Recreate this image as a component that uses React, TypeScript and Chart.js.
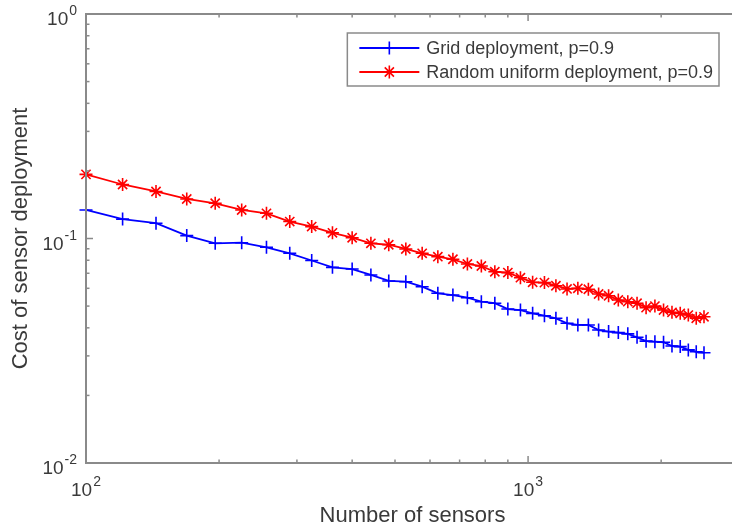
import React, { useEffect, useRef } from "react";
import { Chart, registerables } from "chart.js";

Chart.register(...registerables);

// ---- data ----
const sensorCounts = [
  100, 121, 144, 169, 196, 225, 256, 289, 324, 361, 400, 441, 484, 529, 576, 625, 676, 729, 784, 841,
  900, 961, 1024, 1089, 1156, 1225, 1296, 1369, 1444, 1521, 1600, 1681, 1764, 1849, 1936, 2025, 2116,
  2209, 2304, 2401, 2500,
];
const gridCost = [
  0.134, 0.122, 0.117, 0.103, 0.0952, 0.0958, 0.0914, 0.0859, 0.0798, 0.0744, 0.0731, 0.0688, 0.0647,
  0.0642, 0.061, 0.057, 0.056, 0.0545, 0.0523, 0.0515, 0.0485, 0.048, 0.0464, 0.0453, 0.0441, 0.0419,
  0.0412, 0.0412, 0.0391, 0.0385, 0.0381, 0.0376, 0.0363, 0.0349, 0.0347, 0.0345, 0.0332, 0.033,
  0.0319, 0.0313, 0.031,
];
const randomCost = [
  0.193, 0.174, 0.162, 0.15, 0.1435, 0.134, 0.1295, 0.119, 0.113, 0.106, 0.1008, 0.0952, 0.0938,
  0.0898, 0.0859, 0.083, 0.0808, 0.077, 0.0754, 0.0711, 0.0705, 0.0669, 0.0638, 0.0636, 0.0616,
  0.0596, 0.06, 0.0594, 0.0566, 0.0556, 0.0532, 0.0523, 0.0515, 0.0492, 0.05, 0.048, 0.0469, 0.0464,
  0.0456, 0.0441, 0.0448,
];
const seriesNames = ["Grid deployment, p=0.9", "Random uniform deployment, p=0.9"];
const xTitle = "Number of sensors";
const yTitle = "Cost of sensor deployment";
const xLimits = [100, 3000];
const yLimits = [0.01, 1];
const xMajorTicks = [100, 1000];
const xMajorExponents = ["2", "3"];
const xMinorTicks = [200, 300, 400, 500, 600, 700, 800, 900, 2000, 3000];
const yMajorTicks = [0.01, 0.1, 1];
const yMajorExponents = ["-2", "-1", "0"];
const yMinorTicks = [
  0.02, 0.03, 0.04, 0.05, 0.06, 0.07, 0.08, 0.09, 0.2, 0.3, 0.4, 0.5, 0.6, 0.7, 0.8, 0.9,
];

// ---- style ----
const FONT = '"Liberation Sans", Arial, Helvetica, sans-serif';
const TEXT_COLOR = "#3a3a3a";
const AXIS_COLOR = "#8a8a8a";
const BLUE = "#0000ff";
const RED = "#ff0000";
const MARKER_R = 6.5;

function drawMarker(ctx: CanvasRenderingContext2D, style: string, x: number, y: number, r: number) {
  ctx.beginPath();
  ctx.moveTo(x - r, y);
  ctx.lineTo(x + r, y);
  ctx.moveTo(x, y - r);
  ctx.lineTo(x, y + r);
  if (style === "star") {
    const d = r * Math.SQRT1_2;
    ctx.moveTo(x - d, y - d);
    ctx.lineTo(x + d, y + d);
    ctx.moveTo(x - d, y + d);
    ctx.lineTo(x + d, y - d);
  }
  ctx.stroke();
}

function drawPower(
  ctx: CanvasRenderingContext2D,
  exp: string,
  anchorX: number,
  baseY: number,
  align: "center" | "right"
) {
  ctx.font = `19px ${FONT}`;
  const wBase = ctx.measureText("10").width;
  ctx.font = `14px ${FONT}`;
  const wExp = ctx.measureText(exp).width;
  const total = wBase + wExp + 1;
  const start = align === "center" ? anchorX - total / 2 : anchorX - total;
  ctx.textAlign = "left";
  ctx.textBaseline = "alphabetic";
  ctx.font = `19px ${FONT}`;
  ctx.fillText("10", start, baseY);
  ctx.font = `14px ${FONT}`;
  ctx.fillText(exp, start + wBase + 1, baseY - 10);
}

const axesPlugin = {
  id: "matlabAxes",
  afterDatasetsDraw(chart: any) {
    const { ctx, chartArea: a, scales } = chart;
    const xs = scales.x;
    const ys = scales.y;
    ctx.save();
    ctx.strokeStyle = AXIS_COLOR;
    ctx.lineWidth = 1.5;
    const seg = (x1: number, y1: number, x2: number, y2: number) => {
      ctx.beginPath();
      ctx.moveTo(x1, y1);
      ctx.lineTo(x2, y2);
      ctx.stroke();
    };
    const major = 7;
    const minor = 3.5;
    xMajorTicks.forEach((v) => {
      const p = xs.getPixelForValue(v);
      seg(p, a.bottom, p, a.bottom - major);
      seg(p, a.top, p, a.top + major);
    });
    xMinorTicks.forEach((v) => {
      const p = xs.getPixelForValue(v);
      seg(p, a.bottom, p, a.bottom - minor);
      seg(p, a.top, p, a.top + minor);
    });
    yMajorTicks.forEach((v) => {
      const p = ys.getPixelForValue(v);
      seg(a.left, p, a.left + major, p);
      seg(a.right, p, a.right - major, p);
    });
    yMinorTicks.forEach((v) => {
      const p = ys.getPixelForValue(v);
      seg(a.left, p, a.left + minor, p);
      seg(a.right, p, a.right - minor, p);
    });
    ctx.lineWidth = 2;
    ctx.strokeRect(a.left, a.top, a.right - a.left, a.bottom - a.top);

    ctx.fillStyle = TEXT_COLOR;
    xMajorTicks.forEach((v, i) => {
      drawPower(ctx, xMajorExponents[i], xs.getPixelForValue(v), a.bottom + 32.5, "center");
    });
    yMajorTicks.forEach((v, i) => {
      drawPower(ctx, yMajorExponents[i], a.left - 9, ys.getPixelForValue(v) + 11, "right");
    });
    ctx.restore();
  },
  afterDraw(chart: any) {
    const { ctx, chartArea: a } = chart;
    ctx.save();
    ctx.font = `18px ${FONT}`;
    const tw = Math.max(...seriesNames.map((s) => ctx.measureText(s).width));
    const right = a.right - 20;
    const top = a.top + 19;
    const left = right - (79 + tw + 6);
    const height = 53;
    ctx.fillStyle = "#ffffff";
    ctx.fillRect(left, top, right - left, height);
    ctx.strokeStyle = AXIS_COLOR;
    ctx.lineWidth = 1.5;
    ctx.strokeRect(left, top, right - left, height);
    const rows = [top + 15, top + 39];
    const colors = [BLUE, RED];
    const styles = ["cross", "star"];
    seriesNames.forEach((name, i) => {
      const y = rows[i];
      ctx.strokeStyle = colors[i];
      ctx.lineWidth = 1.8;
      ctx.beginPath();
      ctx.moveTo(left + 12, y);
      ctx.lineTo(left + 72, y);
      ctx.stroke();
      ctx.lineWidth = 1.6;
      drawMarker(ctx, styles[i], left + 42, y, MARKER_R);
      ctx.fillStyle = TEXT_COLOR;
      ctx.textAlign = "left";
      ctx.textBaseline = "middle";
      ctx.font = `18px ${FONT}`;
      ctx.fillText(name, left + 79, y + 1);
    });
    ctx.restore();
  },
};

export default function App() {
  const ref = useRef<HTMLCanvasElement>(null);
  useEffect(() => {
    if (!ref.current) return;
    const chart = new Chart(ref.current, {
      type: "line",
      data: {
        datasets: [
          {
            label: seriesNames[0],
            data: sensorCounts.map((x, i) => ({ x, y: gridCost[i] })),
            borderColor: BLUE,
            backgroundColor: "transparent",
            borderWidth: 1.8,
            pointStyle: "cross",
            pointRadius: MARKER_R,
            pointBorderWidth: 1.6,
            pointBorderColor: BLUE,
            tension: 0,
            clip: false as any,
          },
          {
            label: seriesNames[1],
            data: sensorCounts.map((x, i) => ({ x, y: randomCost[i] })),
            borderColor: RED,
            backgroundColor: "transparent",
            borderWidth: 1.8,
            pointStyle: "star",
            pointRadius: MARKER_R,
            pointBorderWidth: 1.6,
            pointBorderColor: RED,
            tension: 0,
            clip: false as any,
          },
        ],
      },
      options: {
        animation: false,
        responsive: false,
        devicePixelRatio: 1,
        events: [],
        layout: { padding: { left: 0, top: 14, right: 21, bottom: 0 } },
        plugins: { legend: { display: false }, tooltip: { enabled: false } },
        scales: {
          x: {
            type: "logarithmic",
            position: "bottom",
            min: xLimits[0],
            max: xLimits[1],
            grid: { display: false, drawTicks: false },
            border: { display: false },
            ticks: { display: false },
            title: {
              display: true,
              text: xTitle,
              color: TEXT_COLOR,
              font: { family: FONT, size: 22, lineHeight: 1.2 },
              padding: { top: 39.3, bottom: 3.3 },
            },
          },
          y: {
            type: "logarithmic",
            position: "left",
            min: yLimits[0],
            max: yLimits[1],
            grid: { display: false, drawTicks: false },
            border: { display: false },
            ticks: { display: false },
            title: {
              display: true,
              text: yTitle,
              color: TEXT_COLOR,
              font: { family: FONT, size: 22, lineHeight: 1.2 },
              padding: { top: 8, bottom: 51.6 },
            },
          },
        },
      },
      plugins: [axesPlugin],
    });
    return () => chart.destroy();
  }, []);
  return (
    <div
      style={{
        position: "fixed",
        left: 0,
        top: 0,
        width: 732,
        height: 532,
        overflow: "hidden",
        background: "#ffffff",
      }}
    >
      <canvas ref={ref} width={760} height={532} style={{ display: "block", width: 760, height: 532 }} />
    </div>
  );
}
